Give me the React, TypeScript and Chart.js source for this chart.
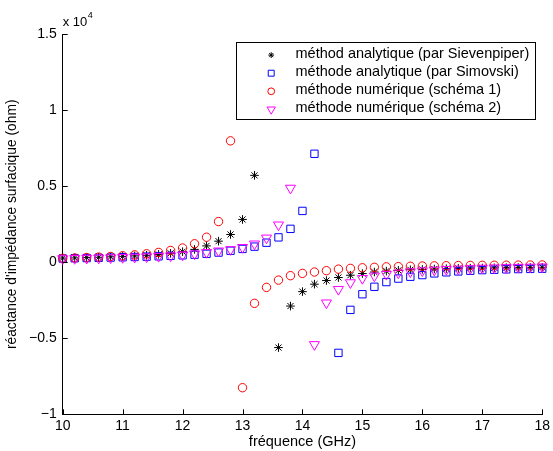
import React, { useEffect, useRef } from 'react';
import { Chart, registerables } from 'chart.js';

Chart.register(...registerables);

const FONT = "'Liberation Sans', Arial, Helvetica, sans-serif";

// Frequencies (GHz)
const freq = [
  10.0, 10.2, 10.4, 10.6, 10.8, 11.0, 11.2, 11.4, 11.6, 11.8,
  12.0, 12.2, 12.4, 12.6, 12.8, 13.0, 13.2, 13.4, 13.6, 13.8,
  14.0, 14.2, 14.4, 14.6, 14.8, 15.0, 15.2, 15.4, 15.6, 15.8,
  16.0, 16.2, 16.4, 16.6, 16.8, 17.0, 17.2, 17.4, 17.6, 17.8, 18.0,
];

// Reactance (ohm) per method; null where no marker is drawn
const sievenpiper = [
  280, 290, 310, 330, 360, 390, 420, 460, 520, 590,
  700, 850, 1080, 1390, 1830, 2820, 5720, null, -5610, -2880,
  -1930, -1440, -1200, -1000, -850, -740, -640, -580, -530, -490,
  -470, -440, -420, -400, -385, -375, -360, -350, -340, -335, -330,
];
const simovski = [
  250, 265, 280, 295, 310, 330, 350, 370, 395, 425,
  460, 500, 560, 640, 760, 880, 1030, 1290, 1640, 2200,
  3380, 7140, null, -5960, -3130, -2100, -1610, -1300, -1070, -950,
  -840, -730, -660, -600, -555, -515, -490, -465, -445, -435, -420,
];
const schema1 = [
  260, 285, 310, 345, 385, 430, 490, 560, 650, 780,
  940, 1220, 1650, 2680, 7990, -8250, -2700, -1650, -1170, -880,
  -730, -640, -550, -450, -400, -360, -330, -300, -285, -260,
  -245, -235, -225, -215, -205, -200, -195, -190, -185, -180, -175,
];
const schema2 = [
  240, 255, 270, 285, 300, 320, 340, 365, 395, 430,
  480, 560, 650, 750, 840, 980, 1210, 1600, 2460, 4880,
  null, -5410, -2670, -1780, -1340, -1060, -900, -790, -700, -620,
  -560, -510, -470, -440, -410, -385, -365, -345, -330, -315, -300,
];

const seriesLabels = [
  'méthod analytique (par Sievenpiper)',
  'méthode analytique (par Simovski)',
  'méthode numérique (schéma 1)',
  'méthode numérique (schéma 2)',
];
const seriesColors = ['#000000', '#0000ff', '#ff0000', '#ff00ff'];
const seriesStyles = ['star', 'rect', 'circle', 'triangle'];
const seriesRadius = [4.3, 5.2, 4.2, 5.8];
const legendRadius = [2.9, 4.2, 3.4, 4.8];
const seriesRotation = [0, 0, 0, 180];

const xTicks = [10, 11, 12, 13, 14, 15, 16, 17, 18];
const yTicks = [-10000, -5000, 0, 5000, 10000, 15000];
const xTitle = 'fréquence (GHz)';
const yTitle = "réactance d'impédance surfacique (ohm)";
const exponentBase = 'x 10';
const exponentPower = '4';

function toPoints(ys: (number | null)[]) {
  const pts: { x: number; y: number }[] = [];
  freq.forEach((x, i) => {
    const v = ys[i];
    if (v !== null && v !== undefined) pts.push({ x, y: v });
  });
  return pts;
}

function drawMarker(ctx: CanvasRenderingContext2D, style: string, x: number, y: number, r: number, rotDeg: number) {
  ctx.beginPath();
  if (style === 'circle') {
    ctx.arc(x, y, r, 0, Math.PI * 2);
  } else if (style === 'rect') {
    const s = Math.SQRT1_2 * r;
    ctx.rect(x - s, y - s, 2 * s, 2 * s);
  } else if (style === 'triangle') {
    let rad = (rotDeg * Math.PI) / 180;
    ctx.moveTo(x + Math.sin(rad) * r, y - Math.cos(rad) * r);
    rad += (2 * Math.PI) / 3;
    ctx.lineTo(x + Math.sin(rad) * r, y - Math.cos(rad) * r);
    rad += (2 * Math.PI) / 3;
    ctx.lineTo(x + Math.sin(rad) * r, y - Math.cos(rad) * r);
    ctx.closePath();
  } else if (style === 'star') {
    for (let k = 0; k < 4; k++) {
      const a = (k * Math.PI) / 4;
      ctx.moveTo(x - Math.cos(a) * r, y - Math.sin(a) * r);
      ctx.lineTo(x + Math.cos(a) * r, y + Math.sin(a) * r);
    }
  }
  ctx.stroke();
}

const decorPlugin = {
  id: 'decor',
  afterDraw(chart: any) {
    const { ctx, chartArea: a, scales } = chart;
    const xs = scales.x;
    const ys = scales.y;
    ctx.save();
    ctx.strokeStyle = '#000';
    ctx.lineWidth = 1;
    ctx.beginPath();
    for (const t of xTicks) {
      const px = Math.round(xs.getPixelForValue(t)) + 0.5;
      ctx.moveTo(px, a.bottom);
      ctx.lineTo(px, a.bottom - 5);
    }
    for (const t of yTicks) {
      const py = Math.round(ys.getPixelForValue(t)) + 0.5;
      ctx.moveTo(a.left, py);
      ctx.lineTo(a.left + 5, py);
    }
    ctx.stroke();

    // exponent label
    ctx.fillStyle = '#000';
    ctx.textAlign = 'left';
    ctx.textBaseline = 'middle';
    ctx.font = `13px ${FONT}`;
    ctx.fillText(exponentBase, a.left, a.top - 11.5);
    ctx.font = `9px ${FONT}`;
    ctx.fillText(exponentPower, a.left + 25, a.top - 18.5);

    // legend box
    const left = a.right - 306;
    const top = a.top + 8;
    const w = 299.3;
    const h = 77;
    ctx.fillStyle = '#fff';
    ctx.fillRect(left, top, w, h);
    ctx.strokeStyle = '#000';
    ctx.lineWidth = 1;
    ctx.strokeRect(Math.round(left) + 0.5, Math.round(top) + 0.5, Math.round(w), Math.round(h));
    ctx.font = `14.5px ${FONT}`;
    ctx.textBaseline = 'middle';
    seriesLabels.forEach((label, i) => {
      const ry = top + 12.8 + i * 18.1;
      ctx.strokeStyle = seriesColors[i];
      ctx.lineWidth = 1;
      drawMarker(ctx, seriesStyles[i], left + 35, ry, legendRadius[i], seriesRotation[i]);
      ctx.fillStyle = '#000';
      ctx.fillText(label, left + 59.3, ry - 1.2);
    });
    ctx.restore();
  },
};

export default function App() {
  const canvasRef = useRef<HTMLCanvasElement | null>(null);

  useEffect(() => {
    if (!canvasRef.current) return;
    const allSeries = [sievenpiper, simovski, schema1, schema2];
    const datasets = allSeries.map((s, i) => ({
      label: seriesLabels[i],
      data: toPoints(s),
      showLine: false,
      pointStyle: seriesStyles[i] as any,
      pointRadius: seriesRadius[i],
      pointHoverRadius: seriesRadius[i],
      pointRotation: seriesRotation[i],
      pointBorderColor: seriesColors[i],
      pointBackgroundColor: 'rgba(0,0,0,0)',
      borderColor: seriesColors[i],
      backgroundColor: 'rgba(0,0,0,0)',
      pointBorderWidth: 1,
      clip: false as any,
      order: 4 - i,
    }));

    const chart = new Chart(canvasRef.current, {
      type: 'scatter',
      data: { datasets },
      options: {
        animation: false,
        responsive: false,
        devicePixelRatio: 1,
        layout: { padding: { top: 34.3, right: 10.3, bottom: 0, left: 0 } },
        plugins: { legend: { display: false }, tooltip: { enabled: false } },
        scales: {
          x: {
            type: 'linear',
            min: 10,
            max: 18,
            grid: { display: false, drawTicks: false },
            border: { display: true, color: '#000', width: 1 },
            ticks: {
              stepSize: 1,
              color: '#000',
              padding: 3,
              font: { size: 14, family: FONT },
              callback: (v: any) => String(v),
            },
            title: {
              display: true,
              text: xTitle,
              color: '#000',
              padding: { top: 0, bottom: 0 },
              font: { size: 14.5, family: FONT, lineHeight: 1.24 },
            },
            afterFit: (scale: any) => {
              scale.height = 36.7;
            },
          },
          y: {
            type: 'linear',
            min: -10000,
            max: 15000,
            grid: { display: false, drawTicks: false },
            border: { display: true, color: '#000', width: 1 },
            ticks: {
              stepSize: 5000,
              color: '#000',
              padding: 6,
              font: { size: 14, family: FONT },
              callback: (v: any) => {
                const n = Number(v) / 10000;
                const s = String(Math.abs(n));
                return n < 0 ? '\u2212' + s : s;
              },
            },
            title: {
              display: true,
              text: yTitle,
              color: '#000',
              padding: { top: 3.9, bottom: 0 },
              font: { size: 13.8, family: FONT },
            },
            afterFit: (scale: any) => {
              scale.width = 62.7;
            },
          },
        },
      },
      plugins: [decorPlugin],
    });
    return () => chart.destroy();
  }, []);

  return (
    <div style={{ position: 'absolute', left: 0, top: 0, width: 553, height: 451, background: '#fff' }}>
      <canvas ref={canvasRef} width={553} height={451} style={{ display: 'block' }} />
    </div>
  );
}
